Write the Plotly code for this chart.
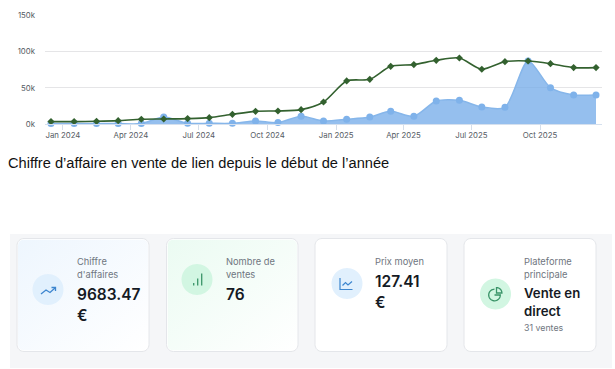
import math
import urllib.parse
import plotly.graph_objects as go

W, H = 615, 369
months = ["2023-12-16","2024-01-16","2024-02-15","2024-03-15","2024-04-15","2024-05-15","2024-06-16",
          "2024-07-15","2024-08-15","2024-09-15","2024-10-15","2024-11-15","2024-12-15","2025-01-15",
          "2025-02-15","2025-03-15","2025-04-15","2025-05-15","2025-06-15","2025-07-15","2025-08-15",
          "2025-09-15","2025-10-15","2025-11-15","2025-12-15"]
cumul = [3.7,3.7,4.1,5.0,6.9,7.3,7.8,9.1,13.7,17.8,18.3,20.1,30.6,59.5,61.7,79.6,81.9,87.8,91.0,75.5,86.0,86.9,83.2,77.8,77.8]
mensuel = [1.0,1.0,1.0,1.0,1.0,10.0,1.4,1.4,1.4,4.6,2.3,11.0,4.6,6.9,10.0,17.8,11.0,32.0,33.0,23.8,23.3,87.0,50.3,40.3,40.3]
tick_dates = ["2024-01-01","2024-04-01","2024-07-01","2024-10-01","2025-01-01","2025-04-01","2025-07-01","2025-10-01"]
tick_labels = ["Jan 2024","Apr 2024","Jul 2024","Oct 2024","Jan 2025","Apr 2025","Jul 2025","Oct 2025"]
y_ticks = [0, 50, 100, 150]
y_labels = ["0k", "50k", "100k", "150k"]
title_text = "Chiffre d’affaire en vente de lien depuis le début de l’année"

BLUE, GREEN = "#7fb2e8", "#33612f"
fig = go.Figure()
fig.add_trace(go.Scatter(x=months, y=mensuel, mode="lines+markers", fill="tozeroy", cliponaxis=False,
    fillcolor="rgba(113,170,232,0.75)", line=dict(color="#86b6ea", width=1.5, shape="spline", smoothing=0.75),
    marker=dict(size=7, color="#7fb2ea"), hoverinfo="skip"))
fig.add_trace(go.Scatter(x=months, y=cumul, mode="lines+markers", cliponaxis=False,
    line=dict(color=GREEN, width=1.6, shape="spline", smoothing=0.75),
    marker=dict(size=5.5, color=GREEN, symbol="diamond"), hoverinfo="skip"))

# pixel-coordinate helper axes for the page furniture
fig.add_trace(go.Scatter(x=[0], y=[0], xaxis="x2", yaxis="y2", mode="markers", marker=dict(opacity=0), hoverinfo="skip"))

def rrect(x0, y0, x1, y1, r):
    k = r * 0.45
    return (f"M{x0+r},{y0} L{x1-r},{y0} C{x1-k},{y0} {x1},{y0+k} {x1},{y0+r} L{x1},{y1-r} C{x1},{y1-k} {x1-k},{y1} {x1-r},{y1} "
            f"L{x0+r},{y1} C{x0+k},{y1} {x0},{y1-k} {x0},{y1-r} L{x0},{y0+r} C{x0},{y0+k} {x0+k},{y0} {x0+r},{y0} Z")

def poly(pts, close=False):
    return "M" + " L".join(f"{x:.2f},{y:.2f}" for x, y in pts) + (" Z" if close else "")

def arc(cx, cy, r, a0, a1, n=28):
    return [(cx + r*math.cos(math.radians(a0+(a1-a0)*i/n)), cy + r*math.sin(math.radians(a0+(a1-a0)*i/n))) for i in range(n+1)]

shapes, images, notes = [], [], []
def shape(path, fill="rgba(0,0,0,0)", line=None, width=0, layer="below"):
    shapes.append(dict(type="path", xref="x2", yref="y2", path=path, fillcolor=fill, layer=layer,
                       line=dict(color=line or "rgba(0,0,0,0)", width=width)))

shape(poly([(10,234),(612,234),(612,368),(10,368)], True), fill="#f5f6f8")
cards = [(17,149),(166.5,298),(315,447),(464,596)]
for x0, x1 in cards:
    shape(rrect(x0, 238.5, x1, 351.5, 7), fill="#ffffff", line="#e4e6ea", width=1)

def grad(c, x0, x1):
    w, h = x1-x0-2, 111
    svg = (f'<svg xmlns="http://www.w3.org/2000/svg" width="{w}" height="{h}"><defs><linearGradient id="g" x1="0" y1="0" x2="1" y2="1">'
           f'<stop offset="0" stop-color="{c}"/><stop offset="1" stop-color="#ffffff"/></linearGradient></defs>'
           f'<rect width="{w}" height="{h}" rx="6" fill="url(#g)"/></svg>')
    images.append(dict(source="data:image/svg+xml," + urllib.parse.quote(svg), xref="x2", yref="y2", x=x0+1, y=239.5,
                       sizex=w, sizey=h, xanchor="left", yanchor="top", sizing="stretch", layer="above"))
grad("#eef6fe", *cards[0])
grad("#ebfbf2", *cards[1])

def circle(cx, cy, r, c):
    shape(poly(arc(cx, cy, r, 0, 360, 48), True), fill=c, layer="above")
circle(48, 289.5, 15.5, "#e1f0fd")
circle(197, 279.5, 15.5, "#d2f6e2")
circle(347, 283.5, 15.5, "#e1f0fd")
circle(495.5, 294, 15.5, "#d2f6e2")

IB, IG = "#3d86cf", "#3a9468"
# trend icon
shape(poly([(41,294),(46,290),(50,292.5),(55,288)]), line=IB, width=1.3, layer="above")
shape(poly([(51.5,287.5),(55.5,287.5),(55.5,291)]), line=IB, width=1.3, layer="above")
# bars icon
for x, top in [(193.7,283),(197.7,278.5),(201.7,273.5)]:
    shape(poly([(x,top),(x,285.5)]), line=IG, width=1.3, layer="above")
# chart icon
shape(poly([(340,278),(340,289.5),(352.5,289.5)]), line=IB, width=1.2, layer="above")
shape(poly([(342.5,285.5),(345.5,282.5),(348,285),(352,281.5)]), line=IB, width=1.2, layer="above")
# pie icon
shape(poly(arc(494.5,295,5.8,-90,-360)+[(494.5,295),(500.3,295)]), line=IG, width=1.3, layer="above")
shape(poly(arc(496.5,293,5.4,-90,0)+[(496.5,293)], True), line=IG, width=1.3, layer="above")

def text(x, y, s, size, color, weight=400, family="Inter"):
    notes.append(dict(xref="x2", yref="y2", x=x, y=y, text=s, showarrow=False, xanchor="left", yanchor="middle", xshift=-2,
                      font=dict(family=family, size=size, color=color, weight=weight)))
LBL, VAL = "#6f7680", "#151a24"
LS, BS = 9.3, 15.5
text(8, 162.5, title_text, 14.65, "#111111", family="Liberation Sans")
text(77, 261, "Chiffre", LS, LBL); text(77, 274, "d'affaires", LS, LBL)
text(77, 294, "9683.47", BS, VAL, 600); text(77, 315, "€", BS, VAL, 600)
text(225.5, 261, "Nombre de", LS, LBL); text(225.5, 274, "ventes", LS, LBL); text(225.5, 294, "76", BS, VAL, 600)
text(375, 261, "Prix moyen", LS, LBL); text(375, 281, "127.41", BS, VAL, 600); text(375, 302, "€", BS, VAL, 600)
text(524, 261, "Plateforme", LS, LBL); text(524, 274, "principale", LS, LBL)
text(524, 292.5, "Vente en", 13.2, VAL, 600); text(524, 311, "direct", 13.2, VAL, 600); text(524, 327, "31 ventes", 8.8, LBL)

y0px, y150px = 124.3, 15.0
fig.update_layout(
    width=W, height=H, autosize=False, margin=dict(l=0, r=0, t=0, b=0, pad=0, autoexpand=False), showlegend=False,
    paper_bgcolor="#ffffff", plot_bgcolor="rgba(0,0,0,0)", shapes=shapes, images=images, annotations=notes,
    xaxis=dict(type="date", domain=[45/W, 602/W], range=["2023-12-08", "2025-12-23"], tickvals=tick_dates, ticktext=tick_labels,
               showgrid=False, ticks="outside", ticklen=5, tickcolor="#d5deea", tickwidth=1, showline=True, linecolor="#d5e0ee",
               ticklabelstandoff=-2, tickfont=dict(family="Inter", size=7.8, color="#555b63"), anchor="y"),
    yaxis=dict(domain=[1-y0px/H, 1-y150px/H], range=[0, 150], tickvals=y_ticks, ticktext=y_labels, showline=False, zeroline=False,
               gridcolor="#e5e5e7", gridwidth=1.2, ticks="", ticklabelstandoff=9, tickfont=dict(family="Inter", size=7.8, color="#555b63"), anchor="x"),
    xaxis2=dict(domain=[0,1], range=[0,W], visible=False, fixedrange=True, anchor="y2"),
    yaxis2=dict(domain=[0,1], range=[H,0], visible=False, fixedrange=True, anchor="x2"),
)
fig.write_html("out.html", config=dict(displayModeBar=False), post_script="document.body.style.margin='0';document.body.style.overflow='hidden';")
